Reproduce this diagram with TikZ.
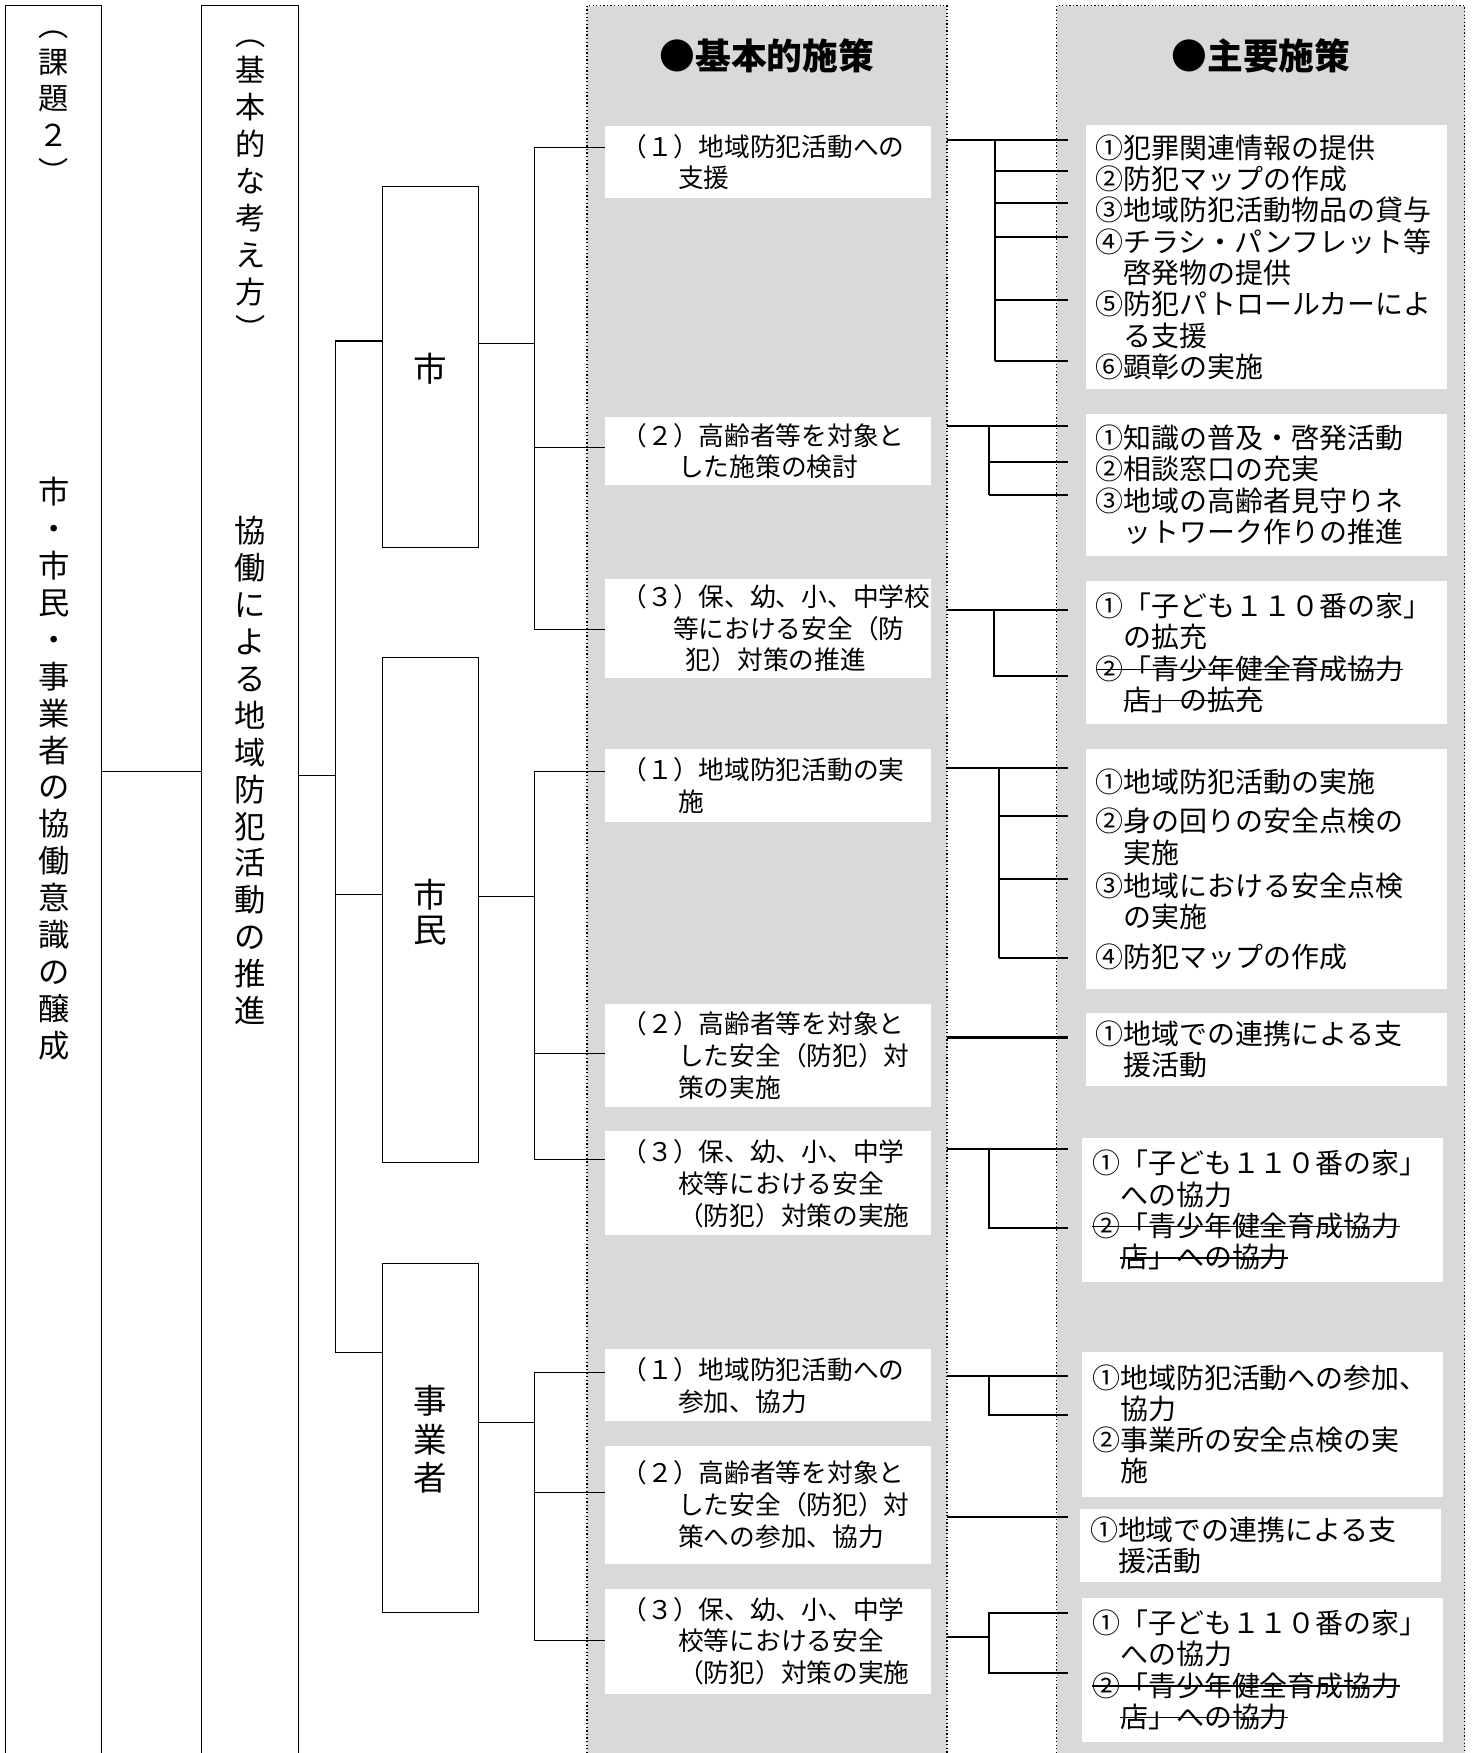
\documentclass[tikz,border=0pt]{standalone}
\usepackage{fontspec}
\setmainfont{Noto Sans CJK JP}
\newsavebox{\strkbox}
\newcommand{\strk}[1]{\leavevmode\sbox{\strkbox}{#1}\rlap{\rule[0.33em]{\wd\strkbox}{1.3pt}}\usebox{\strkbox}}
\definecolor{panelgray}{HTML}{D9D9D9}
\tikzset{
	col/.style = {inner sep = 0pt, outer sep = 0pt, anchor = north west, minimum height = 1563},
	who/.style = {draw, line width = 1pt, inner sep = 0pt, outer sep = 0pt, anchor = north west, minimum width = 86},
	kbox/.style = {fill = white, inner xsep = 15pt, inner ysep = 0pt, outer sep = 0pt, anchor = north west,
		text width = 262pt, align = left, font = \fontsize{23}{28.5}\selectfont},
	mbox/.style = {fill = white, inner xsep = 9pt, inner ysep = 0pt, outer sep = 0pt, anchor = north west,
		text width = 305pt, align = left, font = \fontsize{25}{28}\selectfont},
	head/.style = {font = \fontsize{32}{36}\selectfont\bfseries},
	tate/.style = {inner sep = 0pt, font = \fontsize{28}{28}\selectfont, text height = 24.6pt, text depth = 3.4pt},
	tatesm/.style = {inner sep = 0pt, font = \fontsize{27}{27}\selectfont, text height = 23.8pt, text depth = 3.2pt},
	tatebig/.style = {inner sep = 0pt, font = \fontsize{30}{30}\selectfont, text height = 26.4pt, text depth = 3.6pt},
	wire/.style = {line width = 1pt},
	tie/.style = {line width = 1.8pt}
}
\begin{document}
\begin{tikzpicture}[x = 1pt, y = -1pt]
	\useasboundingbox (0,0) rectangle (1320,1568);
%	columns
	\node[col, minimum width = 86] (kadai) at (5,5) {};
	\node[col, minimum width = 87] (kihon) at (180,5) {};
	\draw[wire] (kadai.south west) -- (kadai.north west) -- (kadai.north east) -- (kadai.south east);
	\draw[wire] (kihon.south west) -- (kihon.north west) -- (kihon.north east) -- (kihon.south east);
	\node[col, minimum width = 322, fill = panelgray] (p1) at (525,5) {};
	\node[col, minimum width = 365, fill = panelgray] (p2) at (945,5) {};
	\draw[dotted, line width = 1.2pt] (p1.south west) -- (p1.north west) -- (p1.north east) -- (p1.south east);
	\draw[dotted, line width = 1.2pt] (p2.south west) -- (p2.north west) -- (p2.north east) -- (p2.south east);
	\node[head] (h1) at (686,50) {●基本的施策};
	\node[head] (h2) at (1128,50) {●主要施策};
%	vertical texts
	\foreach \c [count = \i] in {︵,課,題,２,︶}
		\node[tatesm] (kh\i) at (48, {22 + 33*(\i - 1)}) {\c};
	\foreach \c [count = \i] in {市,・,市,民,・,事,業,者,の,協,働,意,識,の,醸,成}
		\node[tate] (kt\i) at (48, {440 + 33*(\i - 1)}) {\c};
	\foreach \c [count = \i] in {︵,基,本,的,な,考,え,方,︶}
		\node[tatesm] (bh\i) at (224, {30 + 33*(\i - 1)}) {\c};
	\foreach \c [count = \i] in {協,働,に,よ,る,地,域,防,犯,活,動,の,推,進}
		\node[tate] (bt\i) at (224, {475 + 33*(\i - 1)}) {\c};
%	actors
	\node[who, minimum height = 323] (shi) at (342,167) {};
	\node[who, minimum height = 452] (shimin) at (342,588) {};
	\node[who, minimum height = 312] (jigyo) at (342,1130) {};
	\node[tatebig] (shiT) at (385,330) {市};
	\node[tatebig] (shiminT1) at (385,800) {市};
	\node[tatebig] (shiminT2) at (385,832) {民};
	\foreach \c [count = \i] in {事,業,者}
		\node[tatebig] (jigyoT\i) at (385, {1253 + 34.5*(\i - 1)}) {\c};
%	basic measures
	\node[kbox, minimum height = 64] (b11) at (541,113) {（１）地域防犯活動への\\\hspace*{2.2em}支援};
	\node[kbox, minimum height = 61] (b12) at (541,373) {（２）高齢者等を対象と\\\hspace*{2.2em}した施策の検討};
	\node[kbox, minimum height = 88] (b13) at (541,518) {（３）保、幼、小、中学校\\\hspace*{2em}等における安全（防\\\hspace*{2.5em}犯）対策の推進};
	\node[kbox, minimum height = 65] (b21) at (541,670) {（１）地域防犯活動の実\\\hspace*{2.2em}施};
	\node[kbox, minimum height = 92] (b22) at (541,898) {（２）高齢者等を対象と\\\hspace*{2.2em}した安全（防犯）対\\\hspace*{2.2em}策の実施};
	\node[kbox, minimum height = 93] (b23) at (541,1012) {（３）保、幼、小、中学\\\hspace*{2.2em}校等における安全\\\hspace*{2.2em}（防犯）対策の実施};
	\node[kbox, minimum height = 64] (b31) at (541,1207) {（１）地域防犯活動への\\\hspace*{2.2em}参加、協力};
	\node[kbox, minimum height = 106] (b32) at (541,1293) {（２）高齢者等を対象と\\\hspace*{2.2em}した安全（防犯）対\\\hspace*{2.2em}策への参加、協力};
	\node[kbox, minimum height = 94] (b33) at (541,1421) {（３）保、幼、小、中学\\\hspace*{2.2em}校等における安全\\\hspace*{2.2em}（防犯）対策の実施};
%	main measures
	\node[mbox, minimum height = 236] (m1) at (971,112) {①犯罪関連情報の提供\\②防犯マップの作成\\③地域防犯活動物品の貸与\\④チラシ・パンフレット等\\\hspace*{1em}啓発物の提供\\⑤防犯パトロールカーによ\\\hspace*{1em}る支援\\⑥顕彰の実施};
	\node[mbox, minimum height = 127] (m2) at (971,370) {①知識の普及・啓発活動\\②相談窓口の充実\\③地域の高齢者見守りネ\\\hspace*{1em}ットワーク作りの推進};
	\node[mbox, minimum height = 128] (m3) at (971,520) {①「子ども１１０番の家」\\\hspace*{1em}の拡充\\\strk{②「青少年健全育成協力}\\\hspace*{1em}\strk{店」の拡充}};
	\node[mbox, minimum height = 215] (m4) at (971,670) {①地域防犯活動の実施\\[7pt]②身の回りの安全点検の\\\hspace*{1em}実施\\[2pt]③地域における安全点検\\\hspace*{1em}の実施\\[7pt]④防犯マップの作成};
	\node[mbox, minimum height = 65] (m5) at (971,906) {①地域での連携による支\\\hspace*{1em}援活動};
	\node[mbox, minimum height = 129] (m6) at (968,1018) {①「子ども１１０番の家」\\\hspace*{1em}への協力\\\strk{②「青少年健全育成協力}\\\hspace*{1em}\strk{店」への協力}};
	\node[mbox, minimum height = 130] (m7) at (968,1209) {①地域防犯活動への参加、\\\hspace*{1em}協力\\②事業所の安全点検の実\\\hspace*{1em}施};
	\node[mbox, minimum height = 65] (m8) at (966,1350) {①地域での連携による支\\\hspace*{1em}援活動};
	\node[mbox, minimum height = 129] (m9) at (968,1429) {①「子ども１１０番の家」\\\hspace*{1em}への協力\\\strk{②「青少年健全育成協力}\\\hspace*{1em}\strk{店」への協力}};
%	left tree
	\coordinate (t) at (300,694);
	\draw[wire] (kadai.east |- 0,690) -- (kihon.west |- 0,690);
	\draw[wire] (kihon.east |- t) -- (t);
	\draw[wire] (shi.west |- 0,305) -| (t);
	\draw[wire] (shimin.west |- 0,800) -- (t |- 0,800);
	\draw[wire] (jigyo.west |- 0,1210) -| (t);
	\coordinate (j1) at (478,307);
	\coordinate (j2) at (478,802);
	\coordinate (j3) at (478,1272);
	\draw[wire] (shi.east |- j1) -- (j1);
	\draw[wire] (b11.west |- 0,132) -| (j1);
	\draw[wire] (b12.west |- 0,400) -- (j1 |- 0,400);
	\draw[wire] (b13.west |- 0,563) -| (j1);
	\draw[wire] (shimin.east |- j2) -- (j2);
	\draw[wire] (b21.west |- 0,690) -| (j2);
	\draw[wire] (b22.west |- 0,942) -- (j2 |- 0,942);
	\draw[wire] (b23.west |- 0,1037) -| (j2);
	\draw[wire] (jigyo.east |- j3) -- (j3);
	\draw[wire] (b31.west |- 0,1228) -| (j3);
	\draw[wire] (b32.west |- 0,1335) -- (j3 |- 0,1335);
	\draw[wire] (b33.west |- 0,1467) -| (j3);
%	right side
	\coordinate (pe) at ([xshift = 10pt]p2.west);
	\draw[tie] (p1.east |- 0,125) -- (pe |- 0,125);
	\draw[tie] (890,125) -- (890,323);
	\foreach \y in {153,182,212,268,323}
		\draw[tie] (890,\y) -- (pe |- 0,\y);
	\draw[tie] (p1.east |- 0,381) -- (pe |- 0,381);
	\draw[tie] (885,381) -- (885,443);
	\foreach \y in {413,443}
		\draw[tie] (885,\y) -- (pe |- 0,\y);
	\draw[tie] (p1.east |- 0,546) -- (pe |- 0,546);
	\draw[tie] (889,546) |- (pe |- 0,605);
	\draw[tie] (p1.east |- 0,687) -- (pe |- 0,687);
	\draw[tie] (894,687) -- (894,857);
	\foreach \y in {730,786,857}
		\draw[tie] (894,\y) -- (pe |- 0,\y);
	\draw[tie] (p1.east |- 0,928) -- (pe |- 0,928);
	\draw[tie] (p1.east |- 0,1028) -- (pe |- 0,1028);
	\draw[tie] (885,1028) |- (pe |- 0,1098);
	\draw[tie] (p1.east |- 0,1231) -- (pe |- 0,1231);
	\draw[tie] (885,1231) |- (pe |- 0,1266);
	\draw[tie] (p1.east |- 0,1357) -- (pe |- 0,1357);
	\draw[tie] (p1.east |- 0,1464) -- (885,1464);
	\draw[tie] (pe |- 0,1443) -| (885,1496) -- (pe |- 0,1496);
\end{tikzpicture}
\end{document}
